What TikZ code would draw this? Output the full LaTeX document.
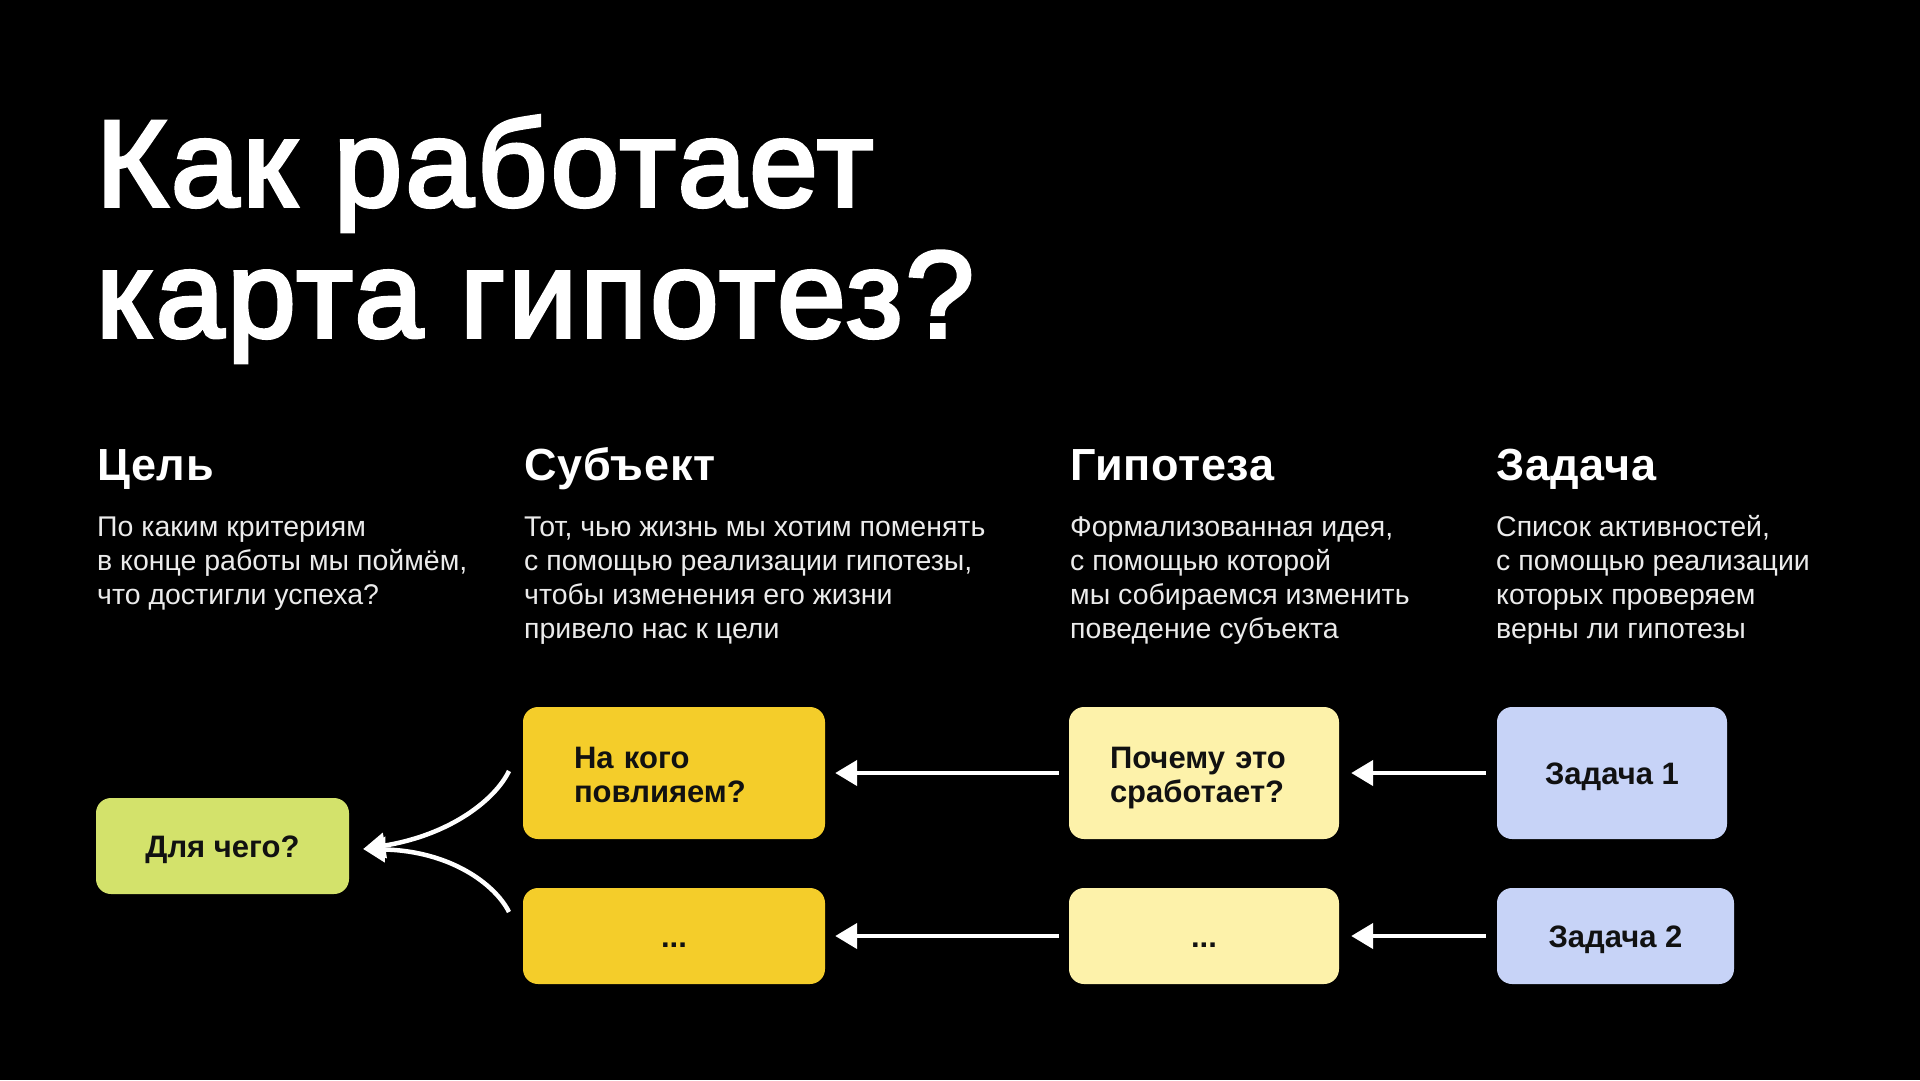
\documentclass[tikz,border=0pt]{standalone}
\usepackage{fontspec}
\setmainfont{Liberation Sans}
\newfontfamily\titlefont{Liberation Sans}[FakeBold=3,LetterSpace=2.6]
\newfontfamily\headfont{Liberation Sans Bold}[LetterSpace=1.5]
\usetikzlibrary{arrows.meta}
\definecolor{cLime}{HTML}{D3E26B}
\definecolor{cYel}{HTML}{F4CD2A}
\definecolor{cPale}{HTML}{FDF2AA}
\definecolor{cLav}{HTML}{C7D3F7}
\definecolor{cInk}{HTML}{111111}
\tikzset{
  titletext/.style={anchor=base west, inner sep=0pt, text=white, font=\titlefont\fontsize{123}{131}\selectfont},
  headtext/.style={anchor=base west, inner sep=0pt, text=white, font=\headfont\fontsize{45}{50}\selectfont},
  bodytext/.style={anchor=base west, inner sep=0pt, text=white!92!black, font=\fontsize{28.5}{34}\selectfont},
  card/.style={rounded corners=15pt, draw=none, inner sep=0pt, text=cInk, font=\bfseries\fontsize{31}{34}\selectfont},
  tall/.style={minimum height=132pt, text height=24pt, text depth=34pt},
  short/.style={minimum height=96pt, text height=23pt, text depth=0pt},
  arr/.style={draw=white, line width=4.5pt, -{Triangle[length=22pt,width=25pt]}},
}
\begin{document}
\begin{tikzpicture}[x=1pt,y=-1pt]
\fill[black] (0,0) rectangle (1920,1080);
\useasboundingbox (0,0) rectangle (1920,1080);

% title
\node[titletext] (t1) at (96,206) {Как работает};
\node[titletext] (t2) at (96,337) {карта гипотез?};

% headings
\node[headtext] (h1) at (97,480) {Цель};
\node[headtext] (h2) at (524,480) {Субъект};
\node[headtext] (h3) at (1070,480) {Гипотеза};
\node[headtext] (h4) at (1496,480) {Задача};

% descriptions
\node[bodytext] (d1a) at (97,536) {По каким критериям};
\node[bodytext] (d1b) at (97,570) {в конце работы мы поймём,};
\node[bodytext] (d1c) at (97,604) {что достигли успеха?};

\node[bodytext] (d2a) at (524,536) {Тот, чью жизнь мы хотим поменять};
\node[bodytext] (d2b) at (524,570) {с помощью реализации гипотезы,};
\node[bodytext] (d2c) at (524,604) {чтобы изменения его жизни};
\node[bodytext] (d2d) at (524,638) {привело нас к цели};

\node[bodytext] (d3a) at (1070,536) {Формализованная идея,};
\node[bodytext] (d3b) at (1070,570) {с помощью которой};
\node[bodytext] (d3c) at (1070,604) {мы собираемся изменить};
\node[bodytext] (d3d) at (1070,638) {поведение субъекта};

\node[bodytext] (d4a) at (1496,536) {Список активностей,};
\node[bodytext] (d4b) at (1496,570) {с помощью реализации};
\node[bodytext] (d4c) at (1496,604) {которых проверяем};
\node[bodytext] (d4d) at (1496,638) {верны ли гипотезы};

% cards
\node[card, short, fill=cLime, minimum width=253pt] (goal) at (222.5,846) {Для чего?};
\node[card, tall, fill=cYel, minimum width=302pt, text width=200pt, inner xsep=51pt, align=left] (subj1) at (674,773) {На кого\\повлияем?};
\node[card, short, fill=cYel, minimum width=302pt] (subj2) at (674,936) {...};
\node[card, tall, fill=cPale, minimum width=270pt, text width=188pt, inner xsep=41pt, align=left] (hyp1) at (1204,773) {Почему это\\сработает?};
\node[card, short, fill=cPale, minimum width=270pt] (hyp2) at (1204,936) {...};
\node[card, tall, fill=cLav, minimum width=230pt, text height=23pt, text depth=0pt] (task1) at (1612,773) {Задача 1};
\node[card, short, fill=cLav, minimum width=237pt] (task2) at (1615.5,936) {Задача 2};

% straight arrows
\draw[arr] ([xshift=-10pt]hyp1.west) -- ([xshift=10pt]subj1.east);
\draw[arr] ([xshift=-10pt]hyp2.west) -- ([xshift=10pt]subj2.east);
\draw[arr] ([xshift=-11pt]task1.west) -- ([xshift=12pt]hyp1.east);
\draw[arr] ([xshift=-11pt]task2.west) -- ([xshift=12pt]hyp2.east);

% curved arrows into goal
\coordinate (cTop) at (509,771);
\coordinate (cBot) at (509,912);
\coordinate (gTip) at ([xshift=14pt,yshift=-3pt]goal.east);
\draw[arr] (cTop) .. controls (495,800) and (450,835) .. (gTip);
\draw[arr] (cBot) .. controls (495,884) and (450,851) .. (gTip);
\end{tikzpicture}
\end{document}
